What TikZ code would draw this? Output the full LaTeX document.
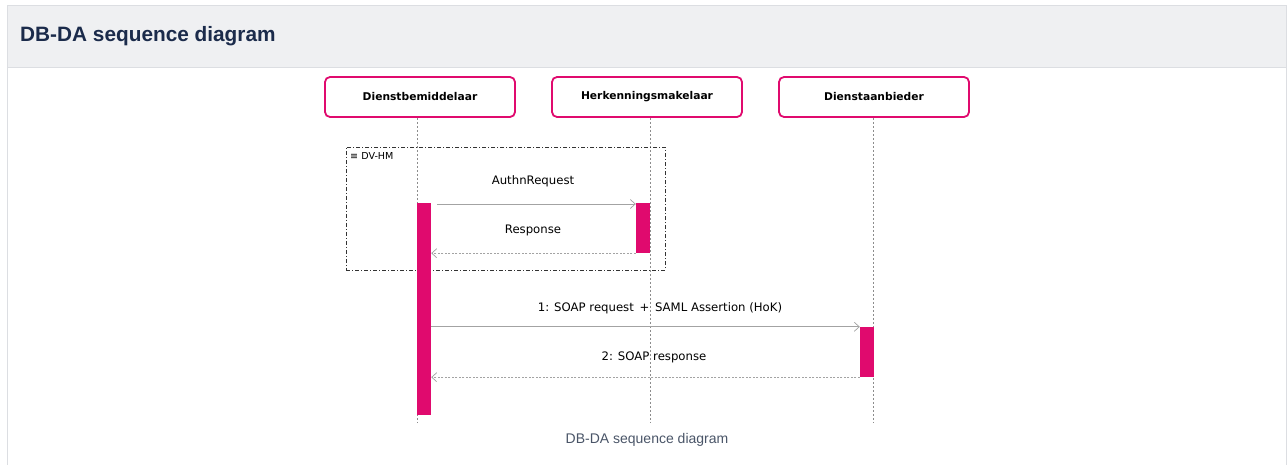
\documentclass[tikz,border=0pt]{standalone}
\usepackage{fontspec}
\setmainfont{Liberation Sans}
\newfontfamily\msgfont{DejaVu Sans}
\usetikzlibrary{arrows.meta}
\definecolor{mag}{HTML}{E00A6E}
\definecolor{hdr}{HTML}{EFF0F2}
\definecolor{hdrline}{HTML}{DCDEE2}
\definecolor{navy}{HTML}{1B2B4B}
\definecolor{capc}{HTML}{4A5568}
\definecolor{linec}{HTML}{8C8C8C}
\tikzset{
  partbox/.style={draw=mag, line width=1.8pt, rounded corners=5pt, fill=white,
    minimum width=190pt, minimum height=40pt, font=\msgfont\bfseries\fontsize{10.7}{12}\selectfont, text=black},
  actbar/.style={fill=mag, draw=none, minimum width=14pt, inner sep=0pt},
  lifeline/.style={draw=linec, line width=0.5pt, dash pattern=on 2pt off 2pt},
  msg/.style={draw=linec!80, line width=0.7pt, -{Straight Barb[length=5pt,width=9pt]}},
  reply/.style={msg, dash pattern=on 2pt off 1.5pt},
  msglabel/.style={font=\msgfont\fontsize{11.7}{13}\selectfont, text=black, inner sep=0pt},
  framebox/.style={draw=black!80, line width=0.6pt, dash pattern=on 4pt off 2pt on 1pt off 2pt,
    minimum width=319pt, minimum height=123pt, inner sep=0pt}
}
\begin{document}
\begin{tikzpicture}[x=1pt,y=-1pt]
\useasboundingbox (0,0) rectangle (1287,465);
% panel
\path[fill=white] (7,6) rectangle (1286,465);
\path[fill=hdr] (7,6) rectangle (1286,68);
\draw[hdrline, line width=1pt] (7,465) -- (7,6) -- (1286,6) -- (1286,465);
\draw[hdrline, line width=1pt] (7,68) -- (1286,68);
\node[anchor=west, font=\bfseries\fontsize{20.8}{24}\selectfont, text=navy, inner sep=0pt] (title) at (20,36) {DB-DA sequence diagram};

% participants
\node[partbox] (db) at (420,97) {Dienstbemiddelaar};
\node[partbox] (hm) at (647,97) {Herkenningsmakelaar};
\node[partbox] (da) at (874,97) {Dienstaanbieder};

% lifeline ends
\coordinate (dbend) at (417,422);
\coordinate (hmend) at (650,422);
\coordinate (daend) at (873,422);
\draw[lifeline] (db.south -| dbend) -- (dbend);
\draw[lifeline] (hm.south -| hmend) -- (hmend);
\draw[lifeline] (da.south -| daend) -- (daend);

% frame
\node[framebox] (frame) at (505.5,208.5) {};
\node[anchor=north west, font=\msgfont\fontsize{9.6}{11}\selectfont, inner sep=0pt] (framelbl) at (350,152) {≡ DV-HM};

% activations
\node[actbar, minimum height=212pt] (dbact) at (424,309) {};
\node[actbar, minimum height=50pt] (hmact) at (643,228) {};
\node[actbar, minimum height=50pt] (daact) at (867,352) {};

% messages
\coordinate (m1s) at (437,204);
\draw[msg] (m1s) -- (m1s -| hmact.west);
\node[msglabel] (m1l) at (533,181) {AuthnRequest};

\draw[reply] (hmact.south west) -- (hmact.south west -| dbact.east);
\node[msglabel] (m2l) at (533,230) {Response};

\draw[msg] (dbact.east |- daact.north) -- (daact.north west);
\node[msglabel] (m3l) at (660,308) {1: SOAP request \,+\, SAML Assertion (HoK)};

\draw[reply] (daact.south west) -- (daact.south west -| dbact.east);
\node[msglabel] (m4l) at (654,357) {2: SOAP response};

% caption
\node[font=\fontsize{14}{16}\selectfont, text=capc, inner sep=0pt] (cap) at (647,440) {DB-DA sequence diagram};
\end{tikzpicture}
\end{document}
